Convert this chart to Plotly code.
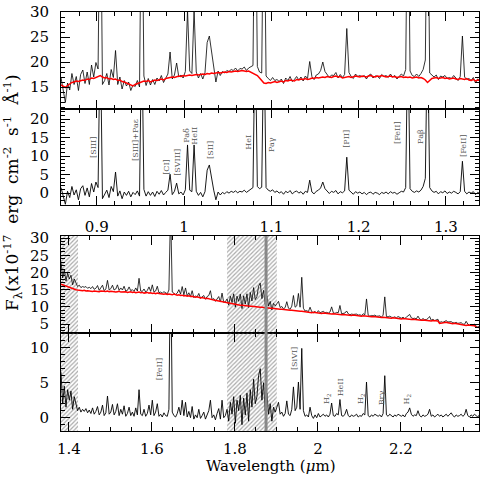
import numpy as np
import plotly.graph_objects as go

# ---- J band block (top) : residual (obs - model) and model continuum on a 0.0025 um grid
j_start, j_step = 0.859, 0.0025
res_j = [1.5, -0.8, -3.0, 0.5, -1.2, 1.8, -0.5, 0.9, -1.8, 1.2,
         2.0, -0.6, 1.4, -1.0, 2.6, 0.3, 3.0, 1.5, 45.0, -1.5,
         -0.5, 0.8, -1.2, 1.8, 0.4, 5.7, -0.8, 0.6, -1.5, 0.3,
         -0.6, 0.5, -1.0, 0.2, -0.4, 0.6, -0.8, 45.0, 1.0, -0.8,
         0.4, -0.6, 0.3, -0.9, 0.5, -0.3, 0.7, -0.5, 0.2, 0.8,
         5.1, -0.4, 0.5, 2.7, -0.2, 0.3, -0.5, 0.9, 13.0, 0.8,
         0.4, 13.0, 0.5, -0.6, 0.2, -1.0, 0.4, 6.2, 7.6, 4.0,
         0.8, -1.8, 0.3, -0.5, 0.2, -0.2, 0.4, 0.0, 0.5, 0.2,
         0.6, 0.1, 0.5, 0.3, 0.8, 0.2, 0.6, 1.0, 1.5, 45.0,
         1.8, 1.2, 1.6, 45.0, 1.5, 0.8, 0.5, 0.9, 0.2, 0.6,
         0.0, 0.4, -0.3, 0.5, 0.1, 0.7, -0.2, 0.3, 0.6, 0.0,
         0.4, -0.3, 0.5, 0.2, 3.5, 0.3, -0.2, 0.5, 0.8, 1.4,
         3.0, 1.2, 0.4, -0.1, 0.5, 0.2, 0.7, -0.2, 0.4, 0.1,
         0.6, 9.7, 0.8, 0.2, -0.3, 0.4, 0.0, 0.3, -0.2, 0.2,
         -0.4, 0.1, 0.3, -0.3, 0.2, 0.0, -0.4, 0.2, -0.1, 0.3,
         -0.2, 0.4, 0.0, 0.2, -0.3, 0.1, 0.5, 0.3, 1.5, 45.0,
         1.2, 0.5, 0.2, 0.6, 0.3, 0.8, 1.8, 4.0, 45.0, 1.5,
         0.6, 0.2, 0.5, -0.2, 0.4, 0.1, 0.6, -0.1, 0.3, 0.0,
         0.5, 0.2, -0.2, 0.4, 8.6, 0.5, -0.2, 0.3, 0.0, 0.4,
         -0.4, 0.2, -0.1]
model_j = [15.4, 15.2, 14.9, 15.3, 15.6, 15.9, 16.0, 16.2, 16.1, 16.3,
           16.4, 16.3, 16.6, 16.5, 16.8, 16.7, 16.9, 17.1, 17.3, 17.0,
           16.8, 16.9, 16.6, 16.7, 16.5, 16.6, 16.3, 16.4, 16.1, 16.0,
           15.8, 15.5, 15.3, 15.2, 15.5, 15.7, 15.8, 16.0, 16.2, 16.1,
           16.3, 16.0, 16.2, 16.4, 16.3, 16.5, 16.6, 16.4, 16.7, 16.8,
           16.9, 17.0, 16.9, 17.1, 17.2, 17.1, 17.3, 17.2, 17.3, 17.4,
           17.3, 17.4, 17.5, 17.4, 17.5, 17.6, 17.5, 17.7, 17.6, 17.8,
           17.7, 17.8, 17.9, 17.8, 17.9, 18.0, 17.9, 18.1, 18.0, 18.1,
           18.2, 18.1, 18.2, 18.3, 18.2, 18.1, 18.2, 18.0, 17.8, 17.6,
           17.3, 16.8, 16.2, 15.8, 15.7, 15.9, 15.8, 16.0, 16.1, 15.9,
           16.1, 16.2, 16.0, 16.3, 16.2, 16.4, 16.3, 16.2, 16.5, 16.4,
           16.6, 16.5, 16.7, 16.5, 16.6, 16.8, 16.7, 16.9, 16.8, 16.9,
           17.0, 16.9, 17.1, 17.0, 16.9, 17.1, 17.2, 17.0, 17.1, 16.8,
           16.9, 17.0, 17.1, 16.9, 17.0, 17.2, 17.1, 17.0, 17.2, 17.1,
           17.0, 17.2, 17.3, 17.1, 17.0, 17.2, 17.1, 17.3, 17.2, 17.0,
           17.1, 17.2, 17.0, 17.1, 16.9, 17.0, 17.1, 16.9, 17.0, 16.9,
           17.0, 16.8, 16.9, 17.0, 16.8, 16.9, 16.7, 16.4, 15.9, 16.3,
           16.7, 16.8, 16.9, 16.7, 16.8, 16.9, 16.7, 16.8, 16.6, 16.7,
           16.8, 16.6, 16.5, 16.7, 16.6, 16.5, 16.7, 16.4, 16.3, 16.5,
           16.2, 16.4, 16.3]

# ---- H+K block (bottom) on a 0.004 um grid
h_start, h_step = 1.381, 0.004
res_h = [6.5, 2.0, 4.5, 1.5, 4.0, 2.5, 3.8, 1.2, 3.0, 1.8,
         1.0, 1.5, 0.8, 1.2, 0.9, 1.3, 0.7, 1.1, 0.6, 1.4,
         0.5, 0.9, 1.6, 0.4, 0.8, 1.8, 0.3, 0.7, 3.1, 0.5,
         0.8, 1.9, 0.4, 0.9, 2.0, 0.3, 1.2, 0.5, 1.7, 0.2,
         0.6, 1.5, 0.3, 0.8, 0.2, 1.4, 0.4, 4.0, 0.5, 0.3,
         1.2, 0.2, 0.6, 1.8, 0.4, 2.5, 0.3, 0.8, 2.0, 0.2,
         0.5, 0.1, 0.7, 0.3, 0.2, 1.2, 25.0, 0.8, 0.3, 0.1,
         0.6, 1.5, 0.4, 2.5, 0.3, 2.2, 0.1, 0.9, 0.0, 1.6,
         -0.2, 0.4, 0.0, 1.2, -0.1, 0.3, 0.8, -0.2, 0.5, 1.0,
         2.5, 0.0, 0.4, -0.3, 0.6, 1.3, -0.2, 2.5, 0.0, 0.3,
         1.2, -0.5, 2.2, 0.5, 3.0, -0.8, 2.5, 1.0, 3.2, -1.0,
         2.8, 0.4, 3.5, -0.5, 4.0, 1.5, 5.5, 2.0, 3.0, 6.0,
         7.0, 2.5, 5.0, 1.0, 3.5, 0.5, 2.0, -0.5, 1.5, 0.8,
         1.5, 2.2, 0.5, 0.8, 0.2, 0.6, 2.4, 0.5, 0.3, 1.2,
         4.4, 1.0, 1.5, 5.1, 1.2, 9.9, 1.0, 0.2, 0.4, 0.1,
         1.5, 0.3, -0.1, 0.4, 0.0, 0.6, 0.1, 0.3, 0.5, 0.2,
         0.4, 0.1, 0.5, 2.1, 0.3, 0.2, 0.6, 0.4, 2.6, 0.3,
         0.2, 0.5, 1.2, 0.3, 0.1, 0.4, 0.2, 0.3, 0.5, 0.1,
         0.3, 0.2, 0.6, 0.4, 5.1, 0.3, 0.1, 0.4, 0.2, 0.5,
         0.3, 0.2, 0.4, 0.1, 0.6, 6.0, 0.4, 0.2, 0.5, 0.3,
         0.1, 0.4, 0.2, 0.5, 0.3, 0.2, 0.4, 0.1, 0.6, 0.8,
         1.4, 0.5, 0.2, 0.4, 0.3, 1.0, 0.3, 0.1, 0.4, 0.2,
         0.3, 0.5, 1.2, 0.2, 0.4, 0.1, 0.3, 0.5, 0.2, 0.4,
         0.1, 0.3, 0.5, 0.2, 0.4, 0.7, 0.3, 0.1, 0.4, 0.2,
         0.3, 0.5, 0.2, 0.4, 1.2, 0.3, 0.1, 0.4, 0.2, 0.5,
         0.3, 0.1, 0.4]
model_h = [16.6, 16.4, 16.2, 16.0, 15.8, 15.6, 15.4, 15.2, 15.1, 15.0,
           14.9, 14.8, 14.8, 14.7, 14.8, 14.6, 14.7, 14.6, 14.7, 14.5,
           14.6, 14.5, 14.6, 14.4, 14.6, 14.5, 14.4, 14.5, 14.6, 14.4,
           14.5, 14.4, 14.5, 14.3, 14.4, 14.5, 14.3, 14.4, 14.3, 14.4,
           14.2, 14.3, 14.4, 14.2, 14.3, 14.1, 14.2, 14.3, 14.1, 14.2,
           14.0, 14.1, 14.2, 14.0, 14.1, 13.9, 14.0, 13.8, 14.0, 13.9,
           13.8, 13.9, 13.7, 13.8, 13.6, 13.7, 13.6, 13.5, 13.7, 13.5,
           13.4, 13.5, 13.3, 13.4, 13.2, 13.3, 13.1, 13.2, 13.0, 13.1,
           12.9, 12.8, 12.9, 12.7, 12.6, 12.7, 12.5, 12.4, 12.5, 12.3,
           12.2, 12.1, 12.0, 11.9, 11.8, 11.7, 11.6, 11.5, 11.3, 11.2,
           11.1, 11.0, 10.9, 10.8, 10.8, 10.7, 10.6, 10.6, 10.5, 10.5,
           10.4, 10.4, 10.3, 10.3, 10.2, 10.2, 10.1, 10.1, 10.0, 10.0,
           9.9, 9.9, 9.8, 9.8, 9.7, 9.7, 9.6, 9.6, 9.5, 9.5,
           9.4, 9.4, 9.3, 9.3, 9.2, 9.2, 9.1, 9.1, 9.0, 9.0,
           8.9, 8.9, 8.8, 8.8, 8.7, 8.7, 8.6, 8.6, 8.5, 8.5,
           8.4, 8.3, 8.4, 8.3, 8.2, 8.3, 8.2, 8.1, 8.2, 8.1,
           8.0, 8.1, 8.0, 7.9, 8.0, 7.9, 7.8, 7.9, 7.8, 7.7,
           7.8, 7.7, 7.6, 7.7, 7.6, 7.5, 7.6, 7.5, 7.4, 7.5,
           7.4, 7.3, 7.4, 7.3, 7.2, 7.3, 7.2, 7.1, 7.2, 7.1,
           7.0, 7.1, 7.0, 6.9, 7.0, 6.9, 6.8, 6.9, 6.8, 6.7,
           6.8, 6.7, 6.6, 6.7, 6.6, 6.5, 6.6, 6.5, 6.4, 6.5,
           6.4, 6.3, 6.4, 6.3, 6.2, 6.3, 6.2, 6.1, 6.2, 6.1,
           6.0, 6.1, 6.0, 5.9, 6.0, 5.9, 5.8, 5.9, 5.2, 5.3,
           5.4, 5.4, 5.5, 5.4, 5.3, 5.0, 5.1, 5.2, 5.1, 5.0,
           5.0, 4.9, 4.8, 4.5, 4.6, 4.7, 4.6, 4.5, 4.4, 4.5,
           4.1, 4.0, 4.0]

# hatched (bad telluric) regions and masked line in the H+K block
hatch_regions = [(1.381, 1.422), (1.781, 1.901)]
masked_lines = [1.875]

# line identifications: (label, wavelength, y in residual panel)
labels_j = [("[SIII]", 0.8954, 12.4), ("[SIII]+Paε", 0.9436, 14.3), ("[CI]", 0.980, 7.0),
            ("[SVIII]", 0.9917, 8.4), ("Paδ", 1.0032, 15.7), ("HeII", 1.0111, 15.4),
            ("[SII]", 1.0295, 11.6), ("HeI", 1.0742, 13.8), ("Paγ", 1.0994, 13.2),
            ("[PII]", 1.1854, 14.6), ("[FeII]", 1.2438, 16.2), ("Paβ", 1.2702, 15.4),
            ("[FeII]", 1.3195, 12.7)]
labels_h = [("[FeII]", 1.617, 6.9), ("[SiVI]", 1.945, 8.4), ("H<sub>2</sub>", 2.022, 2.7),
            ("HeII", 2.055, 4.3), ("H<sub>2</sub>", 2.104, 2.7), ("Brγ", 2.154, 2.9),
            ("H<sub>2</sub>", 2.214, 2.7)]

xr_j = [0.859, 1.338]
xr_h = [1.381, 2.388]
yr = [[10.6, 30], [-3.2, 22.7], [2.4, 30.6], [-1.9, 12.1]]

wl_j = j_start + j_step * np.arange(len(res_j))
obs_j = np.array(model_j) + np.array(res_j)
wl_h = h_start + h_step * np.arange(len(res_h))
obs_h = np.array(model_h) + np.array(res_h)

FONT = "DejaVu Serif"
W = 491.0

fig = go.Figure()

# hatching first so spectra sit on top
for p, ax in [(2, "3"), (3, "4")]:
    for a, b in hatch_regions:
        lo, hi = yr[p]
        fig.add_trace(go.Scatter(x=[a, b, b, a, a], y=[lo, lo, hi, hi, lo], mode="lines",
                                 fill="toself", line=dict(width=0, color="#555"),
                                 fillcolor="rgba(0,0,0,0)",
                                 fillpattern=dict(shape="/", fgcolor="#555", bgcolor="rgba(255,255,255,0)",
                                                  size=3, solidity=0.4),
                                 xaxis="x" + ax, yaxis="y" + ax, hoverinfo="skip"))

fig.add_trace(go.Scatter(x=wl_j, y=obs_j, mode="lines", line=dict(color="black", width=0.8), xaxis="x", yaxis="y"))
fig.add_trace(go.Scatter(x=wl_j, y=model_j, mode="lines", line=dict(color="red", width=1.5), xaxis="x", yaxis="y"))
fig.add_trace(go.Scatter(x=wl_j, y=res_j, mode="lines", line=dict(color="black", width=0.9), xaxis="x2", yaxis="y2"))
fig.add_trace(go.Scatter(x=wl_h, y=obs_h, mode="lines", line=dict(color="black", width=0.8), xaxis="x3", yaxis="y3"))
fig.add_trace(go.Scatter(x=wl_h, y=model_h, mode="lines", line=dict(color="red", width=1.5), xaxis="x3", yaxis="y3"))
fig.add_trace(go.Scatter(x=wl_h, y=res_h, mode="lines", line=dict(color="black", width=0.9), xaxis="x4", yaxis="y4"))

for ax in ["x3", "x4"]:
    for w in masked_lines:
        fig.add_shape(type="line", xref=ax, yref="y%s domain" % ax[1:], x0=w, x1=w, y0=0, y1=1,
                      line=dict(color="#888", width=3))


def px(y0, y1):
    return [(W - y1) / W, (W - y0) / W]


xdom = [61 / W, 479 / W]
ydoms = [px(12, 109), px(109, 205), px(236, 333), px(333, 431)]

tickfont = dict(family=FONT, size=15, color="black")
common = dict(showline=True, linecolor="black", linewidth=1, mirror="ticks", ticks="inside",
              tickcolor="black", tickwidth=1, ticklen=9, showgrid=False, zeroline=False,
              tickfont=tickfont, automargin=False)

layout_axes = {}
for i, (xr, dt, mdt, lab, so) in enumerate([(xr_j, 0.1, 0.02, False, 4), (xr_j, 0.1, 0.02, True, 8),
                                             (xr_h, 0.2, 0.05, False, 4), (xr_h, 0.2, 0.05, True, 4)]):
    n = "" if i == 0 else str(i + 1)
    layout_axes["xaxis" + n] = dict(common, domain=xdom, range=xr, anchor="y" + n, dtick=dt, tick0=0,
                                    showticklabels=lab, ticklabelstandoff=so,
                                    minor=dict(dtick=mdt, tick0=0, ticklen=4, ticks="inside", tickcolor="black"))
    layout_axes["yaxis" + n] = dict(common, domain=ydoms[i], range=yr[i], anchor="x" + n, dtick=5, tick0=0,
                                    ticklabelstandoff=8,
                                    minor=dict(dtick=1, tick0=0, ticklen=4, ticks="inside", tickcolor="black"))

fig.update_layout(**layout_axes)

ann = []
for text, x, y in labels_j:
    ann.append(dict(text=text, x=x, y=y, xref="x2", yref="y2", textangle=-90, showarrow=False,
                    font=dict(family=FONT, size=8, color="#555")))
for text, x, y in labels_h:
    ann.append(dict(text=text, x=x, y=y, xref="x4", yref="y4", textangle=-90, showarrow=False,
                    font=dict(family=FONT, size=8, color="#555")))
ann.append(dict(text="Wavelength (<i>μ</i>m)", x=270 / W, y=(W - 466) / W, xref="paper", yref="paper",
                xanchor="center", yanchor="middle", showarrow=False,
                font=dict(family=FONT, size=15, color="black")))
sp = "\u00a0\u00a0"
ann.append(dict(text="F<sub>λ</sub>(x10<sup>-17</sup>" + sp + "erg" + sp + "cm<sup>-2</sup>" + sp
                     + "s<sup>-1</sup>" + sp + "Å<sup>-1</sup>)",
                x=12 / W, y=(W - 193) / W, xref="paper", yref="paper", textangle=-90, showarrow=False,
                xanchor="center", yanchor="middle",
                font=dict(family=FONT, size=17, color="black")))

fig.update_layout(width=491, height=491, margin=dict(l=0, r=0, t=0, b=0), showlegend=False,
                  paper_bgcolor="white", plot_bgcolor="white", annotations=ann)

# drop the browser's default body margin so the figure starts at the window corner
fig.write_html("out.html", config={"displayModeBar": False},
               post_script="document.body.style.margin='0';")
